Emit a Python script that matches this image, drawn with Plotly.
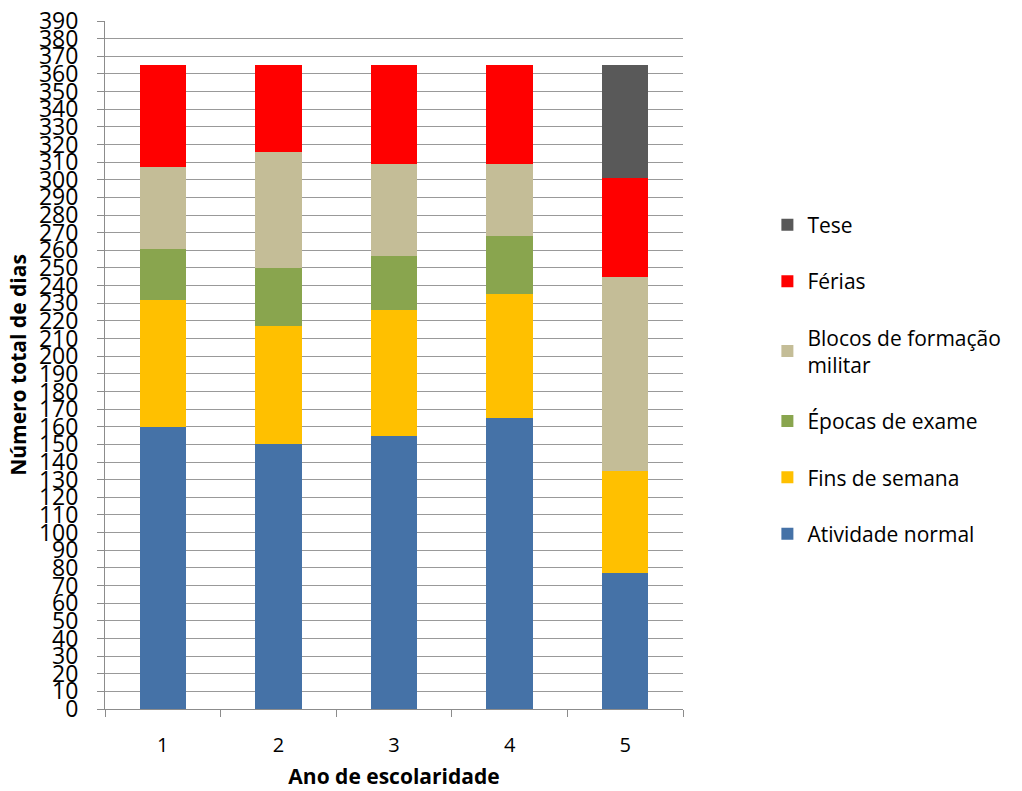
import plotly.graph_objects as go

# School years on the x axis
anos = ["1", "2", "3", "4", "5"]

# Days per activity for each school year (stacked from bottom to top)
atividade_normal = [160, 150, 155, 165, 77]
fins_de_semana = [72, 67, 71, 70, 58]
epocas_de_exame = [29, 33, 31, 33, 0]
blocos_formacao = [46, 66, 52, 41, 110]
ferias = [58, 49, 56, 56, 56]
tese = [0, 0, 0, 0, 64]

y_ticks = list(range(0, 391, 10))

series = [
    ("Atividade normal", atividade_normal, "#4572A7"),
    ("Fins de semana", fins_de_semana, "#FFC000"),
    ("Épocas de exame", epocas_de_exame, "#89A54E"),
    ("Blocos de formação<br>militar", blocos_formacao, "#C4BD97"),
    ("Férias", ferias, "#FF0000"),
    ("Tese", tese, "#595959"),
]

fig = go.Figure()
n = len(series)
for i, (nome, valores, cor) in enumerate(series):
    fig.add_trace(go.Bar(
        x=anos, y=valores, name=nome,
        marker=dict(color=cor, line=dict(width=0)),
        legendgroup=str(i),
        legendrank=n - i,  # top of the stack listed first
    ))

font_family = "Open Sans, Noto Sans, sans-serif"

fig.update_layout(
    barmode="stack",
    bargap=0.6,
    width=1022, height=791,
    margin=dict(l=105, r=339, t=21, b=82, autoexpand=False),
    plot_bgcolor="white",
    paper_bgcolor="white",
    font=dict(family=font_family, color="#000000"),
    showlegend=True,
    legend=dict(
        traceorder="grouped",
        tracegroupgap=26,
        x=1.146, xanchor="left",
        y=0.733, yanchor="top",
        font=dict(size=21, family=font_family),
        itemwidth=30,
    ),
)

fig.update_xaxes(
    type="category",
    showline=True, linecolor="#8C8C8C", linewidth=1,
    ticks="outside", tickson="boundaries", ticklen=7, tickcolor="#8C8C8C",
    ticklabelstandoff=18,
    tickfont=dict(size=20),
    showgrid=False,
    automargin=False,
    title=dict(text="<b>Ano de escolaridade</b>", font=dict(size=21), standoff=12),
)

fig.update_yaxes(
    range=[0, 390],
    tickmode="array", tickvals=y_ticks, ticktext=[str(v) for v in y_ticks],
    showline=True, linecolor="#8C8C8C", linewidth=1,
    ticks="outside", ticklen=7, tickcolor="#8C8C8C",
    ticklabelstandoff=14,
    tickfont=dict(size=23),
    showgrid=True, gridcolor="#999999", gridwidth=1,
    zeroline=False,
    automargin=False,
    title=dict(text="<b>Número total de dias</b>", font=dict(size=21), standoff=6),
)

fig.write_html("out.html")
